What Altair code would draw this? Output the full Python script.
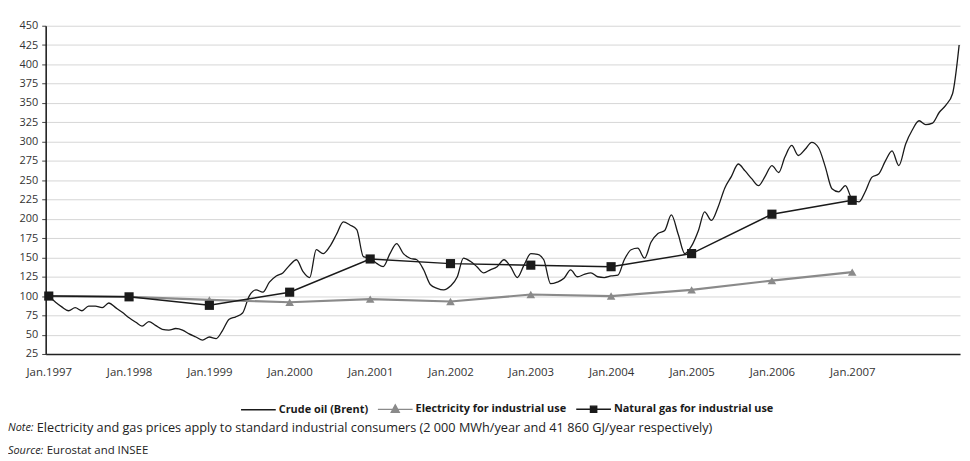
import altair as alt
import pandas as pd

# ---------------- data ----------------
series_names = [
    "Crude oil (Brent)",
    "Electricity for industrial use",
    "Natural gas for industrial use",
]

# Crude oil (Brent) index, monthly from Jan.1997
oil_start = "1997-01-01"
oil_values = [
    100, 92, 86, 81, 85, 81, 87, 87, 85, 91, 85, 79,      # 1997
    72, 66, 61, 67, 62, 57, 56, 58, 56, 51, 47, 43,       # 1998
    47, 45, 55, 70, 73, 78, 100, 108, 105, 118, 126, 130, # 1999
    140, 147, 132, 124, 160, 155, 164, 180, 196, 192, 186, 151,  # 2000
    149, 142, 138, 155, 168, 155, 149, 147, 134, 115, 110, 108,  # 2001
    113, 125, 149, 145, 138, 130, 134, 138, 147, 138, 124, 140,  # 2002
    155, 154, 147, 116, 118, 123, 134, 125, 128, 130, 125, 124,  # 2003
    126, 127, 147, 160, 162, 149, 170, 181, 185, 205, 180, 155,  # 2004
    165, 185, 209, 198, 215, 240, 255, 271, 262, 252, 243, 255,  # 2005
    269, 260, 280, 295, 282, 290, 299, 292, 267, 239, 235, 243,  # 2006
    225, 222, 235, 254, 258, 275, 288, 269, 297, 315, 327, 322,  # 2007
    324, 338, 347, 362, 425,                                     # 2008
]

# Annual observations (January of each year)
years = list(range(1997, 2008))
elec_values = [100, 99, 95, 92, 96, 93, 102, 100, 108, 120, 131]
gas_values = [100, 99, 88, 105, 148, 142, 140, 138, 155, 206, 224]

y_ticks = list(range(25, 451, 25))

note_label = "Note:"
note_text = ("Electricity and gas prices apply to standard industrial consumers "
             "(2 000 MWh/year and 41 860 GJ/year respectively)")
source_label = "Source:"
source_text = "Eurostat and INSEE"

# ---------------- tables ----------------
oil_df = pd.DataFrame({
    "date": pd.date_range(oil_start, periods=len(oil_values), freq="MS"),
    "value": oil_values,
    "series": series_names[0],
})
year_dates = pd.to_datetime([f"{y}-01-01" for y in years])
elec_df = pd.DataFrame({"date": year_dates, "value": elec_values, "series": series_names[1]})
gas_df = pd.DataFrame({"date": year_dates, "value": gas_values, "series": series_names[2]})
all_df = pd.concat([oil_df, elec_df, gas_df], ignore_index=True)

FONT = "Open Sans"
DARK = "#1a1a1a"
GREY = "#8a8a8a"

x_enc = alt.X(
    "date:T",
    scale=alt.Scale(domain=[alt.DateTime(year=1996, month=12, date=18),
                            alt.DateTime(year=2008, month=5, date=5)]),
    axis=alt.Axis(
        title=None,
        values=[alt.DateTime(year=y, month=1, date=1) for y in years],
        format="%b.%Y",
        grid=False, ticks=False, tickSize=0, labelOverlap=False,
        labelPadding=13, labelFont=FONT, labelFontSize=11.5, labelColor="#333",
        domainColor="#222", domainWidth=1.6,
    ),
)
y_enc = alt.Y(
    "value:Q",
    scale=alt.Scale(domain=[25, 450], nice=False, zero=False),
    axis=alt.Axis(
        title=None, values=y_ticks, labelOverlap=False, tickCount=18,
        grid=True, gridColor="#d6d6d6", gridWidth=1,
        tickSize=4, tickColor="#444", labelPadding=4,
        labelFont=FONT, labelFontSize=11, labelColor="#333",
        domainColor="#222", domainWidth=1.6,
    ),
)

oil_line = alt.Chart(oil_df).mark_line(
    color=DARK, strokeWidth=1.3, interpolate="monotone"
).encode(x=x_enc, y=y_enc)

elec_line = alt.Chart(elec_df).mark_line(color=GREY, strokeWidth=2.2).encode(x=x_enc, y=y_enc)
elec_pts = alt.Chart(elec_df).mark_point(
    shape="triangle-up", filled=True, color=GREY, size=75, opacity=1
).encode(x=x_enc, y=y_enc)

gas_line = alt.Chart(gas_df).mark_line(color=DARK, strokeWidth=1.5).encode(x=x_enc, y=y_enc)
gas_pts = alt.Chart(gas_df).mark_point(
    shape="square", filled=True, color=DARK, size=85, opacity=1
).encode(x=x_enc, y=y_enc)

# legend carrier (invisible points, visible legend symbols)
sym_paths = [
    "M-1,0L1,0",
    "M-1,0L1,0M0,-0.26L0.23,0.17L-0.23,0.17Z",
    "M-1,0L1,0M-0.18,-0.18L0.18,-0.18L0.18,0.18L-0.18,0.18Z",
]
sym_colors = [DARK, GREY, DARK]
legend = alt.Legend(
    title=None, orient="none", direction="horizontal",
    legendX=196, legendY=368,
    symbolSize=1225, symbolStrokeWidth=1.4, symbolOpacity=1,
    labelFont=FONT, labelFontSize=11, labelFontWeight="bold", labelColor=DARK,
    labelOffset=2, columnPadding=6, labelLimit=400,
)
legend_layer = alt.Chart(all_df).mark_point(filled=True, opacity=0).encode(
    x=x_enc, y=y_enc,
    shape=alt.Shape("series:N", scale=alt.Scale(domain=series_names, range=sym_paths), legend=legend),
    fill=alt.Fill("series:N", scale=alt.Scale(domain=series_names, range=sym_colors), legend=legend),
    stroke=alt.Stroke("series:N", scale=alt.Scale(domain=series_names, range=sym_colors), legend=legend),
)

def note(txt, x, y, size, italic=False):
    return alt.Chart(pd.DataFrame({"t": [txt]})).mark_text(
        align="left", baseline="middle", font=FONT, fontSize=size,
        fontStyle="italic" if italic else "normal", color="#222",
    ).encode(text="t:N", x=alt.value(x), y=alt.value(y))

notes = [
    note(note_label, -38, 406, 11, italic=True),
    note(note_text, -9, 406, 12.8),
    note(source_label, -38, 429, 11, italic=True),
    note(source_text, 1, 429, 11.5),
]

chart = alt.layer(
    oil_line, elec_line, elec_pts, gas_line, gas_pts, legend_layer, *notes
).properties(
    width=922, height=331,
    padding={"left": 38, "top": 16, "right": 2, "bottom": 103},
    autosize=alt.AutoSizeParams(type="none"),
    background="white",
).configure_view(stroke=None)

chart.save("out.html", embed_options={"renderer": "svg", "actions": False})
